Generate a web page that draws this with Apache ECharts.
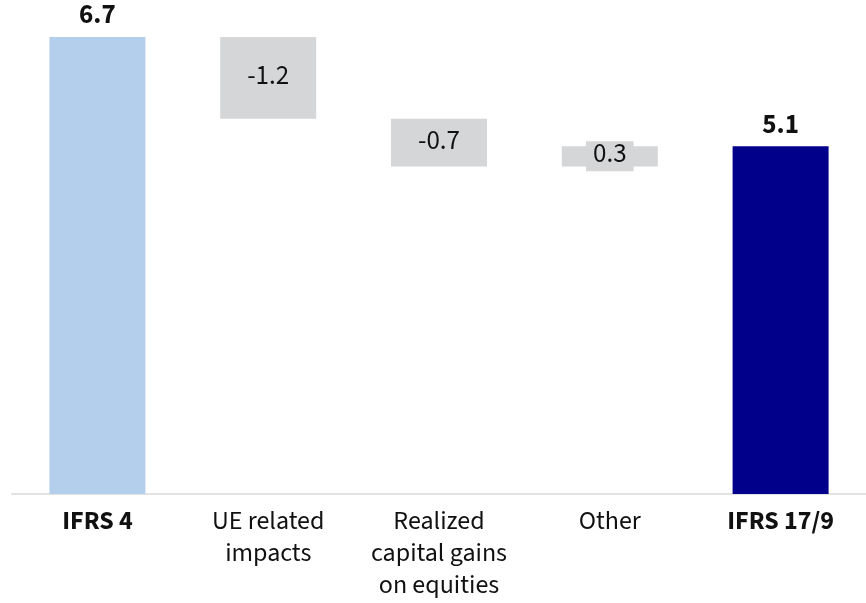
<!DOCTYPE html>
<html>
<head>
<meta charset="utf-8">
<script src="https://cdn.jsdelivr.net/npm/echarts@6/dist/echarts.min.js"></script>
<style>
  html, body { margin: 0; padding: 0; background: #ffffff; }
  #chart { width: 866px; height: 603px; }
</style>
</head>
<body>
<div id="chart"></div>
<script>
// Waterfall: opening total, three movements, closing total
const categories = ['IFRS 4', 'UE related\nimpacts', 'Realized\ncapital gains\non equities', 'Other', 'IFRS 17/9'];
const openingValue = 6.7;
const movements = [-1.2, -0.7, 0.3];
const closingValue = 5.1;
const totalIndexes = [0, 4];

const FONT = '"Source Sans Pro", "Source Sans 3", Lato, "Noto Sans", sans-serif';
const LIGHT_BLUE = '#b4cfec';
const NAVY = '#00008b';
const GREY = '#d5d6d8';
const TEXT = '#111111';

// Invisible offsets and visible heights for the floating bars
const baseData = [0];
const barData = [openingValue];
const signedValues = [openingValue];
let running = openingValue;
movements.forEach(function (d) {
  const next = Math.round((running + d) * 100) / 100;
  baseData.push(Math.min(running, next));
  barData.push(Math.abs(d));
  signedValues.push(d);
  running = next;
});
baseData.push(0);
barData.push(closingValue);
signedValues.push(closingValue);

const totalLabel = {
  show: true,
  position: 'top',
  distance: 6,
  fontFamily: FONT,
  fontSize: 27,
  fontWeight: 'bold',
  color: TEXT
};
const moveLabel = {
  show: true,
  position: 'inside',
  fontFamily: FONT,
  fontSize: 27,
  lineHeight: 26,
  color: TEXT,
  backgroundColor: GREY,
  padding: [2, 7, 2, 7]
};

const visibleData = barData.map(function (v, i) {
  let color = GREY;
  if (i === 0) color = LIGHT_BLUE;
  if (i === categories.length - 1) color = NAVY;
  return {
    value: v,
    itemStyle: { color: color },
    label: totalIndexes.indexOf(i) >= 0 ? totalLabel : moveLabel
  };
});

const chart = echarts.init(document.getElementById('chart'), null, { renderer: 'canvas' });
chart.setOption({
  animation: false,
  backgroundColor: '#ffffff',
  grid: { left: 12, right: -8, top: 37, bottom: 105, containLabel: false },
  xAxis: {
    type: 'category',
    data: categories,
    axisLine: { show: true, lineStyle: { color: '#e3e3e3', width: 2 } },
    axisTick: { show: false },
    axisLabel: {
      interval: 0,
      margin: 13,
      fontFamily: FONT,
      fontSize: 26,
      lineHeight: 32,
      color: TEXT,
      formatter: function (value, idx) {
        if (totalIndexes.indexOf(idx) >= 0) return '{b|' + value + '}';
        return value;
      },
      rich: {
        b: { fontFamily: FONT, fontSize: 26, fontWeight: 'bold', color: TEXT, lineHeight: 32 }
      }
    }
  },
  yAxis: {
    type: 'value',
    min: 0,
    max: 6.7,
    show: false,
    splitLine: { show: false }
  },
  series: [
    {
      name: 'base',
      type: 'bar',
      stack: 'fall',
      barWidth: 96,
      silent: true,
      itemStyle: { color: 'transparent' },
      data: baseData
    },
    {
      name: 'value',
      type: 'bar',
      stack: 'fall',
      barWidth: 96,
      label: {
        formatter: function (p) {
          return signedValues[p.dataIndex].toFixed(1);
        }
      },
      data: visibleData
    }
  ]
});
</script>
</body>
</html>
